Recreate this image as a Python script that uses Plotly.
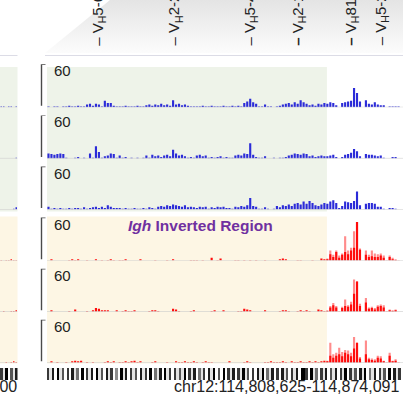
import plotly.graph_objects as go

# ---------------- data ----------------
view_start_kb = 114808.625
view_end_kb = 114874.091
n_bins = 120
inverted_end_kb = 114860.1          # right edge of the Igh inverted region in this view

gene_names = ["5-6", "2-2", "5-4", "2-1", "81X", "5-2"]
gene_pos_kb = [114818.06, 114832.16, 114845.96, 114854.84, 114864.66, 114870.17]
gene_strong = [False, False, False, True, True, False]

# blue tracks (signal per bin, 0-60 scale)
track1 = [1,0,1,1,0,1,1,2,1,1,2,1,1, 4,5,2,5,4,1,9,6,6,2,1, 1,1,2,1,1,1,2,1,
          1,3,4,2,4,3,5,3,4,2,10,4,5,3,4,2,1, 1,1,1,2,1,1,2,1,1,1,2,1,1,2,1,2,1,
          6,8,12,7,5,1,1,4,1,1,0,1,2,4,5,6,4,7,5,10,7,5,3,4,2,5,4,6,
          5,7,6,3,0,6,7,8,9,27,20,8,0,10,5,4,7,4,3,3,0,1,1,1,1,0]
track2 = [7,6,5,6,7,6,1,0,0,1, 2,0,1,0,7,1,17,9,1,3, 4,7,6,1,4,1,2,0,1,0,
          1,0,1,4,1,5,3,4,2,4, 5,3,12,7,4,5,3,1,2,1, 4,5,3,4,1,2,1,2,3,1,
          2,1,1,4,5,4,7,6,21,5, 2,1,1,3,0,0,1,0,1,1, 2,4,5,7,6,5,7,6,3,4,
          2,3,4,3, 3,4,5,2,0,2,5,6,8,13, 10,3,0,6,5,5,4,3,4,1, 0,0,2,2,0,0]
track3 = [4,1,2,1,2,1,1,2,1,2, 2,1,3,1,2,3,4,2,4,2, 6,4,2,2,2,1,2,1,1,2,
          1,1,2,1,3,2,1,4,5,4, 6,5,7,6,5,4,6,3,4,3, 2,4,3,4,1,3,2,4,3,4,
          2,2,1,4,3,5,4,6,16,5, 4,1,1,3,1,0,1,5,3,6, 5,7,5,8,9,7,11,8,12,9,
          6,5,7,9, 8,11,13,9,2,5,11,10,9,12, 25,6,0,8,9,9,8,4,4,1, 0,2,2,1,0,0]

# red tracks: mean per bin, plus max for the bins right of the inverted region
track4 = [0,2,0,0,0,0,0,1,2,1, 2,0,0,1,0,0,2,0,1,0, 1,2,1,0,1,1,2,0,0,0,
          0,2,0,0,0,0,1,0,0,0, 1,0,2,0,0,0,0,0,1,1, 1,0,1,0,0,4,0,1,3,0,
          0,0,0,1,1,0,1,0,1,0, 1,0,0,1,0,0,0,0,2,3, 2,0,0,0,1,1,0,0,0,1,
          0,0,3,2, 2,9,5,12,4,8,12,9,14,18, 54,15,0,8,5,6,5,5,7,4, 0,5,2,1,0,0]
track4_max = [3,14,8,14,7,10,34,14,18,41, 54,17,0,14,8,14,10,9,10,7, 1,7,4,2,1,0]
track5 = [0,2,0,0,0,0,0,1,0,3, 0,0,0,1,0,2,5,4,2,2, 2,0,0,2,0,1,2,1,1,2,
          0,0,0,0,1,2,2,1,0,0, 0,0,4,3,1,0,0,0,1,2, 0,0,0,0,0,1,2,0,0,2,
          0,0,0,0,1,1,4,3,2,0, 0,0,0,2,0,0,0,0,1,2, 2,1,0,0,1,2,1,2,1,0,
          0,3,2,1, 1,6,9,6,0,5,8,7,10,25, 42,8,0,13,4,5,3,7,8,6, 0,2,1,2,0,0]
track5_max = [2,8,12,8,1,7,17,9,14,45, 42,11,0,19,6,7,5,9,10,9, 1,3,2,3,0,0]
track6 = [0,2,0,1,0,0,1,0,2,3, 2,3,0,1,0,1,0,0,0,1, 2,1,2,0,1,1,2,1,2,3,
          1,2,0,0,0,1,2,0,0,0, 1,0,0,2,1,1,2,1,1,2, 1,0,1,2,1,1,0,0,0,0,
          0,2,0,0,0,0,1,2,1,0, 0,0,0,1,1,2,1,1,1,2, 1,0,2,1,1,2,1,1,2,1,
          2,1,2,3, 2,10,7,10,12,9,14,12,9,20, 28,6,0,12,5,4,3,7,6,2, 0,10,2,3,0,0]
track6_max = [3,28,12,14,21,15,18,17,14,36, 28,8,0,31,7,6,5,10,9,3, 1,14,3,5,1,0]
max_first_bin = 94

# left sliver (end of the neighbouring view), 7 bins
left_tracks = [[1,1,0,1,1,0,1], [0,0,0,0,0,0,1], [0,0,0,0,0,1,3],
               [1,0,1,1,2,1,1], [0,1,0,0,1,1,2], [0,0,1,0,1,2,1]]

# base-density ruler (0 = white, 9 = black)
ruler = [int(c) for c in
         "71809160708150907180916081704091807160817090518091707161"
         "90718051708190609071807191607081905180708160718099709150"
         "7180618071907160819051807160908170"]
left_ruler = [7, 1, 9, 0, 6, 1, 8]

# ---------------- layout helpers ----------------
W, H = 416, 405
def fx(p): return p / W
def fy(p): return 1 - p / H

bin_kb = (view_end_kb - view_start_kb) / n_bins
bar_w = bin_kb * 0.72
xs = [view_start_kb + (i + 0.5) * bin_kb for i in range(n_bins)]
xs_max = xs[max_first_bin:]

BLUE = "#2b2bd8"
RED = "#ff0c0c"
PINK = "#ff8c8c"
track_list = [track1, track2, track3, track4, track5, track6]
max_list = [None, None, None, track4_max, track5_max, track6_max]

baseline0 = 107.3
track_step = 51.1
track_h = 43.0

fig = go.Figure()

for k in range(6):
    yname = "y" if k == 0 else f"y{k+1}"
    col = BLUE if k < 3 else RED
    if max_list[k] is not None:
        fig.add_trace(go.Bar(x=xs_max, y=max_list[k], width=bar_w, marker_color=PINK,
                             marker_line_width=0, xaxis="x", yaxis=yname, hoverinfo="skip"))
    fig.add_trace(go.Bar(x=xs, y=track_list[k], width=bar_w, marker_color=col,
                         marker_line_width=0, xaxis="x", yaxis=yname, hoverinfo="skip"))
    fig.add_trace(go.Bar(x=[i + 0.5 for i in range(len(left_tracks[k]))], y=left_tracks[k],
                         width=0.6, marker_color=col, marker_line_width=0,
                         xaxis="x2", yaxis=yname, hoverinfo="skip"))

# ruler
fig.add_trace(go.Heatmap(z=[ruler], x0=view_start_kb + (view_end_kb - view_start_kb) / len(ruler) / 2,
                         dx=(view_end_kb - view_start_kb) / len(ruler), y=[0],
                         colorscale=[[0, "#ffffff"], [1, "#000000"]], zmin=0, zmax=9,
                         showscale=False, xaxis="x", yaxis="y7", hoverinfo="skip"))
fig.add_trace(go.Heatmap(z=[left_ruler], x0=0.5, dx=1, y=[0],
                         colorscale=[[0, "#ffffff"], [1, "#000000"]], zmin=0, zmax=9,
                         showscale=False, xaxis="x2", yaxis="y7", hoverinfo="skip"))

# header gradient (pixel overlay)
fig.add_trace(go.Scatter(x=[45, 110, 403, 403, 45], y=[53, 0, 0, 53, 53], mode="lines",
                         line=dict(width=0), fill="toself",
                         fillgradient=dict(type="vertical", start=0, stop=53,
                                           colorscale=[[0, "#e4e4e4"], [1, "#fcfcfc"]]),
                         xaxis="x3", yaxis="y8", hoverinfo="skip"))

layout = dict(
    width=W, height=H, margin=dict(l=0, r=0, t=0, b=0),
    paper_bgcolor="white", plot_bgcolor="rgba(0,0,0,0)",
    showlegend=False, barmode="overlay",
    xaxis=dict(domain=[fx(47), fx(403)], range=[view_start_kb, view_end_kb], visible=False, fixedrange=True),
    xaxis2=dict(domain=[0, fx(17.5)], range=[0, 7], visible=False, fixedrange=True),
    xaxis3=dict(domain=[0, 1], range=[0, W], visible=False, fixedrange=True),
    yaxis7=dict(domain=[fy(380), fy(368)], range=[-0.5, 0.5], visible=False, fixedrange=True),
    yaxis8=dict(domain=[0, 1], range=[H, 0], visible=False, fixedrange=True),
)
for k in range(6):
    b = baseline0 + k * track_step
    key = "yaxis" if k == 0 else f"yaxis{k+1}"
    layout[key] = dict(domain=[fy(b), fy(b - track_h)], range=[0, 60], visible=False, fixedrange=True)
fig.update_layout(**layout)

shapes = []
# inverted region shading
for (top, bot, colr) in [(67, 211.5, "#eef3e9"), (216.5, 363.5, "#fdf6e4")]:
    shapes.append(dict(type="rect", xref="x", yref="paper", x0=view_start_kb, x1=inverted_end_kb,
                       y0=fy(bot), y1=fy(top), fillcolor=colr, line_width=0, layer="below"))
    shapes.append(dict(type="rect", xref="paper", yref="paper", x0=0, x1=fx(17.5),
                       y0=fy(bot), y1=fy(top), fillcolor=colr, line_width=0, layer="below"))
# header line
for (a, b2) in [(45, 403), (0, 17.5)]:
    shapes.append(dict(type="line", xref="paper", yref="paper", x0=fx(a), x1=fx(b2),
                       y0=fy(55.5), y1=fy(55.5), line=dict(color="#dcdce6", width=1)))
for k in range(6):
    yname = "y" if k == 0 else f"y{k+1}"
    # baselines
    shapes.append(dict(type="line", xref="x", yref=yname, x0=view_start_kb, x1=view_end_kb,
                       y0=0, y1=0, line=dict(color="#cccccc", width=1)))
    shapes.append(dict(type="line", xref="x2", yref=yname, x0=0, x1=7,
                       y0=0, y1=0, line=dict(color="#cccccc", width=1)))
    # scale bracket
    shapes.append(dict(type="path", xref="paper", yref=yname,
                       path=f"M {fx(45.5)},60 L {fx(41.5)},60 L {fx(41.5)},2",
                       line=dict(color="#4a4a4a", width=1.4)))
fig.update_layout(shapes=shapes)

FONT = "Arial, Liberation Sans"
ann = []
for k in range(6):
    yname = "y" if k == 0 else f"y{k+1}"
    ann.append(dict(text="60", xref="paper", x=fx(51.5), xanchor="left", yref=yname, y=60,
                    yanchor="top", yshift=4, showarrow=False,
                    font=dict(family=FONT, size=15, color="#222222")))
for name, pos, strong in zip(gene_names, gene_pos_kb, gene_strong):
    mark = "<b>\u2013</b>" if strong else "\u2013"
    ann.append(dict(text=f"{mark} V<sub>H</sub>{name}", xref="x", x=pos, yref="paper", y=fy(47.5),
                    xanchor="center", yanchor="bottom", textangle=-90, showarrow=False,
                    font=dict(family=FONT, size=15, color="#222222")))
ann.append(dict(text="<b><i>Igh</i> Inverted Region</b>", xref="paper", x=fx(200), xanchor="center",
                yref="paper", y=fy(225), showarrow=False,
                font=dict(family=FONT, size=15.5, color="#7030a0")))
ann.append(dict(text="chr12:114,808,625-114,874,091", xref="paper", x=fx(286), xanchor="center",
                yref="paper", y=fy(397), showarrow=False,
                font=dict(family=FONT, size=16, color="#222222")))
ann.append(dict(text="chr12:114,742,800", xref="paper", x=fx(18.5), xanchor="right", yref="paper",
                y=fy(397), showarrow=False,
                font=dict(family=FONT, size=16, color="#222222")))
fig.update_layout(annotations=ann)

fig.write_html("out.html", config={"displayModeBar": False, "staticPlot": True},
               post_script="document.body.style.margin='0px';document.body.style.overflow='hidden';")
